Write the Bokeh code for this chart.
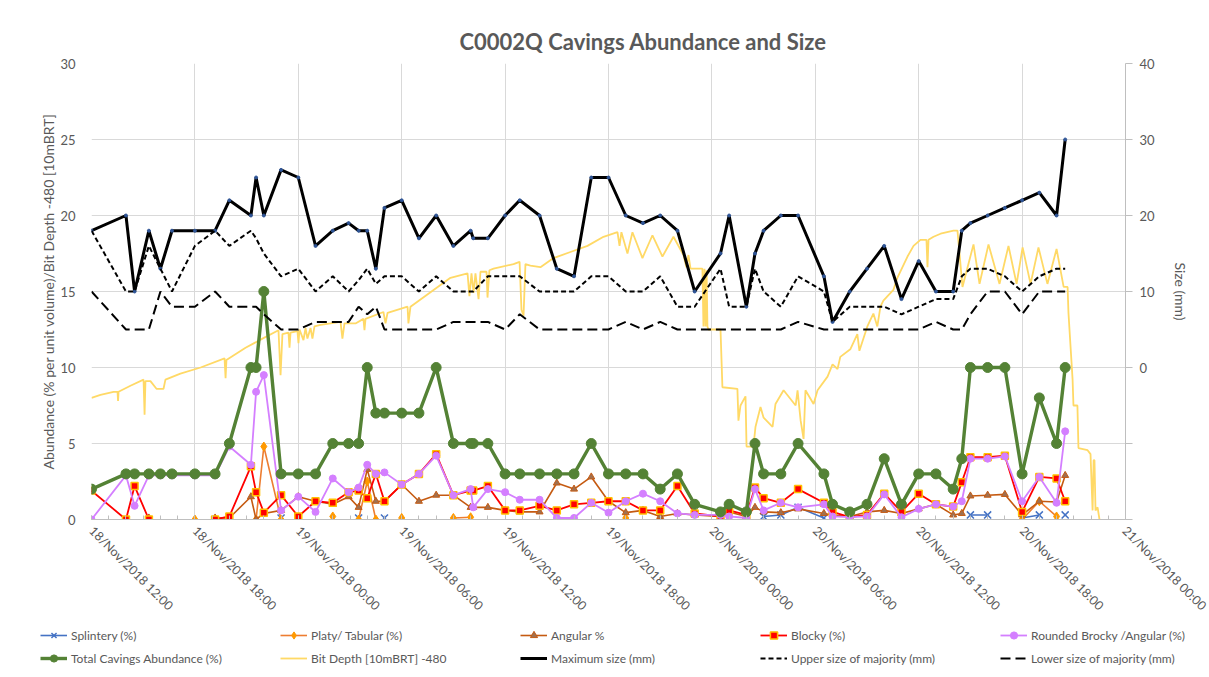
import math
import numpy as np
import pandas as pd
from bokeh.plotting import figure
from bokeh.layouts import column
from bokeh.models import (Range1d, LinearAxis, FixedTicker, DatetimeTickFormatter,
                          Legend, LegendItem)
from bokeh.embed import file_html
from bokeh.resources import INLINE

N = None
START = "2018-11-18 12:00"
END = "2018-11-21 00:00"
X_TICK_LABELS = ["18/Nov/2018 12:00", "18/Nov/2018 18:00", "19/Nov/2018 00:00",
                 "19/Nov/2018 06:00", "19/Nov/2018 12:00", "19/Nov/2018 18:00",
                 "20/Nov/2018 00:00", "20/Nov/2018 06:00", "20/Nov/2018 12:00",
                 "20/Nov/2018 18:00", "21/Nov/2018 00:00"]
LEFT_TICKS = [0, 5, 10, 15, 20, 25, 30]
RIGHT_TICKS = [0, 10, 20, 30, 40]

# sample times, hours after START
hours = [0, 2, 2.5, 3.33, 4, 4.67, 6, 7.17, 8, 9.25, 9.55, 10, 11, 12,
         13, 14, 14.92, 15.5, 16, 16.5, 17, 18, 19, 20, 21, 22, 22.15, 23, 24, 24.85,
         26, 27, 28, 29, 30, 31, 32, 33, 34, 35, 36.5, 37, 38,
         38.5, 39, 40, 41, 42.5, 43, 44, 45, 46, 47, 48, 49, 50, 50.5,
         51, 52, 53, 54, 55, 56, 56.5]

splintery = [N, N, N, N, N, N, N, N, N, N, N, N, 0.1, N,
             N, N, N, 0.1, N, N, 0.1, N, N, N, N, N, N, N, N, N,
             N, N, N, N, N, N, N, N, N, N, N, N, N,
             N, 0.2, 0.3, 0.8, 0.1, N, N, N, N, N, N, N, N, N,
             0.3, 0.3, N, 0.1, 0.3, N, 0.3]
platy = [N, N, N, N, N, N, 0, N, N, N, 0, 4.8, 0, N,
         N, 0.2, N, 0, 2.5, 0, N, 0.1, N, N, 0.1, 0.15, N, N, N, N,
         N, N, N, N, N, 0.1, N, N, N, N, N, N, N,
         N, N, N, N, N, N, N, N, N, N, N, N, N, N,
         N, N, N, 0, 1.2, 0.2, N]
angular = [N, N, N, 0.1, N, N, N, 0.1, 0.1, 1.5, 0, 0.4, 0.6, 1.5,
           1.2, 1.0, 1.5, 0.8, 3.3, 1.2, 1.2, 2.3, 1.2, 1.6, 1.6, 0.8, 0.8, 0.8, 0.6, 0.5,
           0.5, 2.4, 2.0, 2.8, 1.2, 0.45, 0.6, 0.2, 0.4, 0.3, 0.2, 0.5, 0.2,
           0.8, 0.5, 0.45, 0.7, 0.4, 0.3, 0.2, 0.5, 0.6, 0.4, 0.7, 1.0, 0.3, 0.4,
           1.55, 1.6, 1.65, 0.3, 1.2, 1.15, 2.9]
blocky = [1.9, 0, 2.2, 0, N, N, N, 0, 0.2, 3.5, 1.8, 0.45, 1.6, 0.2,
          1.2, 1.1, 1.8, 1.9, 1.4, 3.0, 1.2, 2.3, 3.0, 4.3, 1.6, 1.9, 1.9, 2.2, 0.6, 0.6,
          0.9, 0.6, 1.0, 1.1, 1.2, 1.2, 0.6, 0.6, 2.2, 0.4, 0.2, 0.6, 0.3,
          2.1, 1.4, 1.1, 2.0, 1.1, 0.5, 0.15, 0.3, 1.7, 0.5, 1.7, 1.0, 0.85, 2.45,
          4.1, 4.1, 4.2, 0.5, 2.8, 2.7, 1.2]
rounded = [0, 2.9, 0.9, 2.9, 2.9, 2.9, 2.9, 2.9, 4.8, 3.6, 8.4, 9.5, 0.6, 1.5,
           0.5, 2.7, 1.8, 2.1, 3.6, 3.0, 3.1, 2.3, 3.0, 4.2, 1.6, 2.0, 0.8, 2.0, 1.8, 1.3,
           1.3, 0.1, 0.1, 1.1, 0.45, 1.2, 1.7, 1.2, 0.4, 0.3, 0.3, 0.2, 0.1,
           2.0, 0.6, 1.1, 0.8, 1.0, 0.2, 0.15, 0.2, 1.65, 0.15, 0.7, 1.0, 0.85, 1.2,
           4.0, 4.0, 4.15, 1.2, 2.8, 1.1, 5.8]
total = [2, 3, 3, 3, 3, 3, 3, 3, 5, 10, 10, 15, 3, 3,
         3, 5, 5, 5, 10, 7, 7, 7, 7, 10, 5, 5, 5, 5, 3, 3,
         3, 3, 3, 5, 3, 3, 3, 2, 3, 1, 0.5, 1, 0.5,
         5, 3, 3, 5, 3, 1, 0.5, 1, 4, 1, 3, 3, 2, 4,
         10, 10, 10, 3, 8, 5, 10]
max_size = [18, 20, 10, 18, 13, 18, 18, 18, 22, 20, 25, 20, 26, 25,
            16, 18, 19, 18, 18, 13, 21, 22, 17, 20, 16, 18, 17, 17, 20, 22,
            20, 13, 12, 25, 25, 20, 19, 20, 18, 10, 15, 20, 8,
            15, 18, 20, 20, 12, 6, 10, 13, 16, 9, 14, 10, 10, 18,
            19, 20, 21, 22, 23, 20, 30]
upper_size = [18, 10, 10, 16, 13, 10, 16, 18, 16, 18, 17, 15, 12, 13,
              10, 12, 10, 11.5, 13, 11, 12, 12, 10, 12, 10, 10, 10, 12, 12, 12,
              10, 10, 10, 12, 12, 10, 10, 12, 8, 8, 13, 8, 8,
              13, 10, 8, 12, 10, 6, 8, 8, 8, 7, 8, 9, 9, 12,
              13, 13, 12, 10, 12, 13, 13]
lower_size = [10, 5, 5, 5, 10, 8, 8, 10, 8, 8, 8, 7, 5, 5,
              6, 6, 6, 8, 7, 8, 5, 5, 5, 5, 6, 6, 6, 6, 5, 7,
              5, 5, 5, 5, 5, 6, 5, 6, 5, 5, 5, 5, 5,
              5, 5, 5, 6, 5, 5, 5, 5, 5, 5, 5, 6, 5, 5,
              7, 10, 10, 7, 10, 10, 10]

# bit depth trace (hours after START, value)
bit_hours = [0, 0.52, 1.28, 1.51, 1.54, 1.57, 2.26, 3.02, 3.08, 3.13, 3.42, 3.77, 4.18, 4.29,
             5.16, 6.33, 7.72, 7.78, 7.83, 8.94, 9.92, 10.85, 10.97, 11.08, 11.43, 11.49,
             11.55, 11.95, 12.01, 12.07, 12.30, 12.42, 12.53, 12.71, 12.82, 12.94, 13.29,
             14.45, 14.56, 14.68, 15.32, 15.78, 15.84, 15.90, 16.94, 17.06, 17.18, 18.34,
             18.39, 18.51, 19.85, 20.83, 21.82, 21.93, 22.05, 22.17, 22.28, 22.46, 22.57,
             22.92, 22.98, 23.09, 23.33, 24.49, 24.84, 24.95, 25.07, 25.18, 25.47, 26.05,
             26.81, 27.79, 28.78, 29.71, 30.52, 30.64, 30.75, 31.10, 31.39, 31.97, 32.55,
             33.13, 33.77, 34.35, 34.52, 34.64, 34.76, 35.45, 35.51, 35.57, 35.63, 35.69,
             35.74, 35.80, 36.50, 36.61, 37.48, 37.54, 37.66, 37.95, 38.01, 38.41, 38.53,
             38.82, 39.00, 39.52, 39.69, 40.16, 40.86, 40.97, 41.15, 41.32, 41.43, 41.90,
             42.13, 42.71, 43.00, 43.29, 43.45, 44.03, 44.44, 44.56, 45.02, 45.37, 45.60,
             45.78, 45.95, 46.53, 46.76, 47.35, 47.70, 48.10, 48.45, 48.51, 48.57, 48.86,
             49.27, 50.02, 50.25, 50.54, 51.18, 51.53, 52.05, 52.69, 53.21, 53.68, 54.03,
             54.49, 54.95, 55.47, 56.00, 56.41, 56.64, 56.69, 56.81, 56.93, 56.98, 57.21,
             57.27, 57.80, 57.97, 58.09, 58.15, 58.20, 58.26, 58.38, 58.49]
bit_depth = [8.0, 8.2, 8.4, 8.4, 7.8, 8.4, 8.8, 9.2, 6.9, 9.1, 9.1, 8.6, 8.6, 9.2,
             9.6, 10.0, 10.6, 9.3, 10.5, 11.3, 11.9, 12.45, 9.5, 12.2, 12.3, 11.3,
             12.3, 12.4, 11.6, 12.5, 11.8, 12.6, 11.9, 12.6, 11.9, 12.7, 12.8,
             13.0, 11.9, 12.9, 12.9, 13.2, 12.45, 13.2, 13.65, 12.9, 13.6, 14.0,
             12.9, 14.0, 15.1, 15.9, 16.2, 14.7, 16.2, 14.9, 16.2, 14.5, 16.3,
             16.3, 14.6, 16.4, 16.5, 16.8, 16.95, 13.8, 13.4, 16.8, 16.7, 16.6,
             17.2, 17.6, 18.0, 18.6, 18.9, 18.0, 18.9, 17.5, 18.9, 17.2, 18.7,
             17.3, 18.6, 17.4, 16.6, 17.4, 16.5, 16.5, 12.7, 16.5, 12.7, 16.4,
             12.7, 12.5, 12.5, 8.7, 8.6, 6.5, 7.5, 8.1, 4.8, 4.8, 6.1,
             7.4, 6.7, 6.1, 7.6, 8.5, 7.5, 8.5, 6.5, 5.3, 8.5, 7.6,
             8.5, 9.4, 10.2, 9.9, 10.7, 11.2, 12.2, 11.1, 12.7, 13.55, 12.7,
             14.0, 14.4, 15.1, 15.9, 17.3, 18.0, 18.4, 18.4, 16.6, 18.4, 18.6,
             18.8, 19.0, 19.0, 15.3, 18.1, 15.5, 18.1, 15.5, 18.0, 15.5, 17.9,
             15.5, 17.9, 15.5, 17.8, 15.3, 15.3, 13.6, 11.4, 9.2, 7.5, 7.5,
             4.7, 4.56, 4.3, 0.6, 3.9, 3.9, 0.6, 0.8, 0.0]

FONT = "Lato"
TXT = "#595959"
GRID = "#d9d9d9"

t0 = pd.Timestamp(START)


def to_dt(hs):
    return (t0 + pd.to_timedelta(np.array(hs, dtype=float), unit="h")).to_numpy()


def arr(v):
    return np.array([np.nan if a is None else a for a in v], dtype=float)


x = to_dt(hours)
xb = to_dt(bit_hours)

p = figure(width=1209, height=626, x_axis_type="datetime",
           x_range=Range1d(t0.to_pydatetime(), pd.Timestamp(END).to_pydatetime()),
           y_range=Range1d(0, 30), output_backend="svg", toolbar_location=None,
           min_border_left=91, min_border_right=84, min_border_top=63,
           min_border_bottom=107, background_fill_color="white",
           border_fill_color="white")
p.outline_line_color = None
p.extra_y_ranges = {"size": Range1d(-20, 40)}

# title
p.title.text = "C0002Q Cavings Abundance and Size"
p.title.text_font = FONT
p.title.text_font_size = "22px"
p.title.text_font_style = "bold"
p.title.text_color = TXT
p.title.align = "left"
p.title.offset = 368
p.title.standoff = 18

# x axis
tick_ms = [pd.to_datetime(s, format="%d/%b/%Y %H:%M").value / 1e6 for s in X_TICK_LABELS]
minor_ms = [tick_ms[0] + h * 3600e3 for h in range(0, 61)]
xa = p.xaxis[0]
xa.ticker = FixedTicker(ticks=tick_ms, minor_ticks=minor_ms)
fmt = "%d/%b/%Y %H:%M"
xa.formatter = DatetimeTickFormatter(microseconds=fmt, milliseconds=fmt, seconds=fmt,
                                     minsec=fmt, minutes=fmt, hourmin=fmt, hours=fmt,
                                     days=fmt, months=fmt, years=fmt)
xa.major_label_orientation = -math.pi / 4
xa.major_label_text_font = FONT
xa.major_label_text_font_size = "12.5px"
xa.major_label_text_color = TXT
xa.major_label_standoff = 9
xa.axis_line_color = "#bfbfbf"
xa.major_tick_line_color = "#bfbfbf"
xa.minor_tick_line_color = "#bfbfbf"
xa.major_tick_in = 4
xa.major_tick_out = 0
xa.minor_tick_in = 4
xa.minor_tick_out = 0

# left axis
ya = p.yaxis[0]
ya.ticker = FixedTicker(ticks=LEFT_TICKS)
ya.axis_label = "Abundance (% per unit volume)/Bit Depth -480 [10mBRT]"
ya.axis_label_text_font = FONT
ya.axis_label_text_font_size = "14px"
ya.axis_label_text_font_style = "normal"
ya.axis_label_text_color = TXT
ya.axis_label_standoff = 0
ya.major_label_text_font = FONT
ya.major_label_text_font_size = "13px"
ya.major_label_text_color = TXT
ya.major_label_standoff = 10
ya.axis_line_color = None
ya.major_tick_line_color = None
ya.minor_tick_line_color = None

# right axis
ra = LinearAxis(y_range_name="size",
                ticker=FixedTicker(ticks=RIGHT_TICKS, minor_ticks=[-20, -10]),
                axis_label="Size (mm)")
ra.axis_label_text_font = FONT
ra.axis_label_text_font_size = "14px"
ra.axis_label_text_font_style = "normal"
ra.axis_label_text_color = TXT
ra.axis_label_standoff = 14
ra.major_label_text_font = FONT
ra.major_label_text_font_size = "13px"
ra.major_label_text_color = TXT
ra.major_label_standoff = 7
ra.axis_line_color = "#bfbfbf"
ra.major_tick_line_color = "#bfbfbf"
ra.minor_tick_line_color = "#bfbfbf"
ra.major_tick_in = 0
ra.major_tick_out = 7
ra.minor_tick_in = 0
ra.minor_tick_out = 7
p.add_layout(ra, "right")

p.xgrid.grid_line_color = GRID
p.ygrid.grid_line_color = GRID
p.xgrid.ticker = xa.ticker
p.ygrid.ticker = ya.ticker

# series styles
STY = {
    "spl": dict(line_color="#4472C4", line_width=1.6),
    "pla": dict(line_color="#ED7D31", line_width=1.6),
    "ang": dict(line_color="#C55A11", line_width=1.6),
    "blo": dict(line_color="#FF0000", line_width=1.8),
    "rou": dict(line_color="#D47FFF", line_width=1.8),
    "tot": dict(line_color="#548235", line_width=3.4),
    "bit": dict(line_color="#FFD966", line_width=1.8),
    "max": dict(line_color="black", line_width=3),
    "upp": dict(line_color="black", line_width=2, line_dash="5 3"),
    "low": dict(line_color="black", line_width=2, line_dash="10 5"),
}
MRK = {
    "spl": dict(marker="x", size=10, line_color="#4472C4", line_width=1.5),
    "pla": dict(marker="diamond", size=9, fill_color="#FF9900", line_color="#FF9900"),
    "ang": dict(marker="triangle", size=7, fill_color="#A07050", line_color="#C55A11"),
    "blo": dict(marker="square", size=7, fill_color="#FF0000", line_color="#FFC000",
                line_width=1.5),
    "rou": dict(marker="circle", size=7, fill_color="#D47FFF", line_color="#D47FFF"),
    "tot": dict(marker="circle", size=10, fill_color="#548235", line_color="#548235"),
}

p.line(xb, bit_depth, **STY["bit"])
p.line(x, arr(splintery), **STY["spl"])
p.scatter(x, arr(splintery), **MRK["spl"])
p.line(x, arr(platy), **STY["pla"])
p.scatter(x, arr(platy), **MRK["pla"])
p.line(x, arr(angular), **STY["ang"])
p.scatter(x, arr(angular), **MRK["ang"])
p.line(x, arr(blocky), **STY["blo"])
p.scatter(x, arr(blocky), **MRK["blo"])
p.line(x, arr(rounded), **STY["rou"])
p.scatter(x, arr(rounded), **MRK["rou"])
p.line(x, total, **STY["tot"])
p.scatter(x, total, **MRK["tot"])
p.line(x, max_size, y_range_name="size", **STY["max"])
p.scatter(x, max_size, size=3, color="#2F5597", y_range_name="size")
p.line(x, upper_size, y_range_name="size", **STY["upp"])
p.line(x, lower_size, y_range_name="size", **STY["low"])

# legend strip (separate figure so the legend can sit below the axis labels)
lg = figure(width=1209, height=51, x_range=Range1d(0, 1), y_range=Range1d(0, 1),
            x_axis_type=None, y_axis_type=None, output_backend="svg",
            toolbar_location=None, min_border=0, background_fill_color="white",
            border_fill_color="white")
lg.frame_align = False
lg.outline_line_color = None
lg.xgrid.visible = False
lg.ygrid.visible = False

LABELS = [("spl", "Splintery (%)"), ("pla", "Platy/ Tabular (%)"), ("ang", "Angular %"),
          ("blo", "Blocky (%)"), ("rou", "Rounded Brocky /Angular (%)"),
          ("tot", "Total Cavings Abundance (%)"), ("bit", "Bit Depth [10mBRT] -480"),
          ("max", "Maximum size (mm)"), ("upp", "Upper size of majority (mm)"),
          ("low", "Lower size of majority (mm)")]
items = []
for key, lab in LABELS:
    # legend swatches only; their single point lies outside the visible range
    rs = [lg.line([-5, -4], [-5, -5], **STY[key])]
    if key in MRK:
        rs.append(lg.scatter([-5], [-5], **MRK[key]))
    items.append(LegendItem(label=lab, renderers=rs))

legend = Legend(items=items, orientation="horizontal", ncols=5,
                location=(40, 10), padding=0, margin=0, spacing=5,
                glyph_width=27, glyph_height=18, label_standoff=4, label_width=204,
                label_text_font=FONT, label_text_font_size="12px",
                label_text_color=TXT, border_line_color=None,
                background_fill_alpha=0)
lg.add_layout(legend)

layout = column(p, lg, spacing=0)
open("out.html", "w").write(file_html(layout, INLINE))
